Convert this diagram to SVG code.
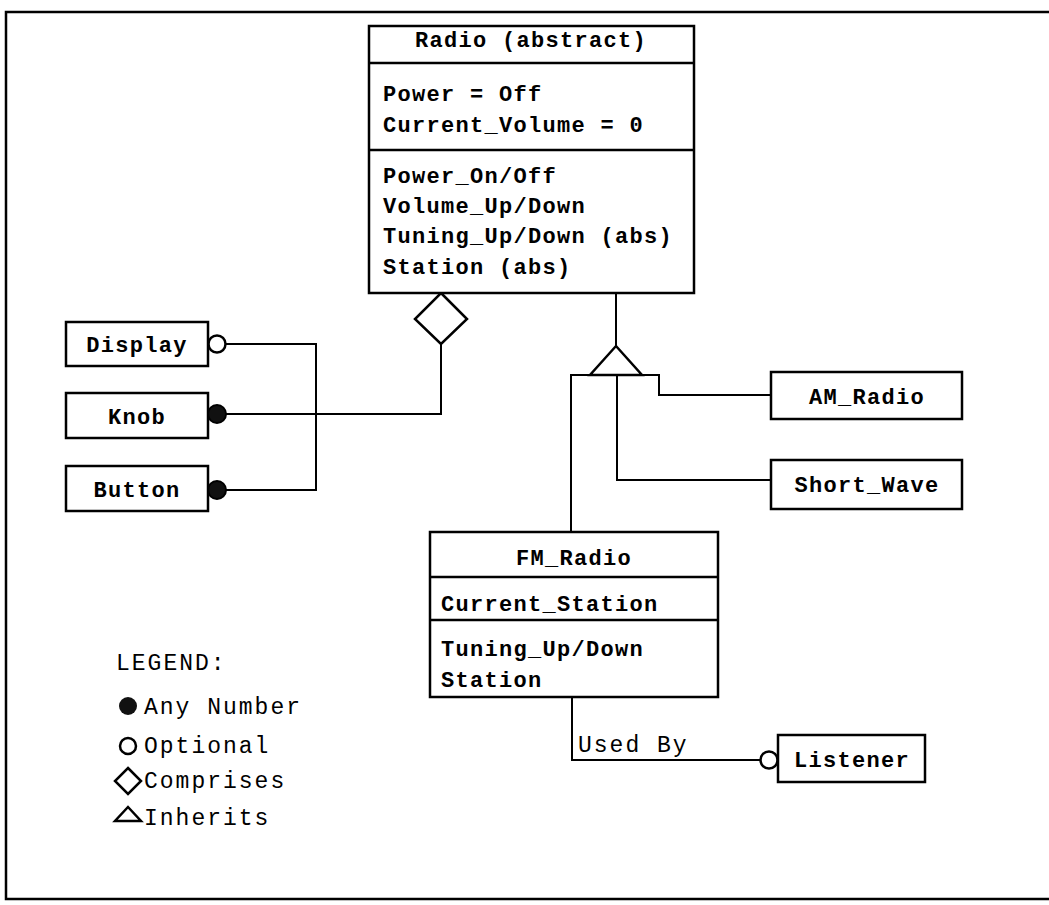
<svg xmlns="http://www.w3.org/2000/svg" width="1049" height="905" viewBox="0 0 1049 905">
<style>
.box{fill:#fff;stroke:#000;stroke-width:2.5}
.div{stroke:#000;stroke-width:2.5}
.ln{fill:none;stroke:#000;stroke-width:2}
.b{font-family:"Liberation Mono","Courier New",monospace;font-weight:bold;font-size:22px;letter-spacing:1.3px;fill:#000}
.r{font-family:"Liberation Mono","Courier New",monospace;font-size:23px;letter-spacing:2px;fill:#000}
.c{text-anchor:middle}
.open{fill:#fff;stroke:#000;stroke-width:2.5}
.fill{fill:#111;stroke:#000;stroke-width:2}
</style>
<rect width="1049" height="905" fill="#fff"/>
<path d="M1049 12 H6 V899 H1049" fill="none" stroke="#000" stroke-width="2.5"/>

<g id="connectors">
  <!-- comprises -->
  <polygon points="441,293 467,319 441,344 415,319" class="open"/>
  <path class="ln" d="M441 344 V414 H226"/>
  <path class="ln" d="M226 344 H316 V490 H226"/>
  <!-- inherits -->
  <path class="ln" d="M616 293 V346"/>
  <polygon points="616,346 642,375 590,375" class="open"/>
  <path class="ln" d="M590 375 H571 V532"/>
  <path class="ln" d="M642 375 H659 V395 H771"/>
  <path class="ln" d="M617 375 V480 H771"/>
  <!-- used by -->
  <path class="ln" d="M572 697 V760 H761"/>
  <text x="578" y="752" class="r">Used By</text>
  <!-- end markers -->
  <circle cx="217" cy="344" r="8.5" class="open"/>
  <circle cx="217" cy="414" r="9" class="fill"/>
  <circle cx="217" cy="490" r="9" class="fill"/>
  <circle cx="769" cy="760" r="8.5" class="open"/>
</g>

<g id="radio">
  <rect x="369" y="26" width="325" height="267" class="box"/>
  <line x1="369" y1="63" x2="694" y2="63" class="div"/>
  <line x1="369" y1="150" x2="694" y2="150" class="div"/>
  <text x="531" y="47" class="b c">Radio (abstract)</text>
  <text x="383" y="101" class="b">Power = Off</text>
  <text x="383" y="132" class="b">Current_Volume = 0</text>
  <text x="383" y="183" class="b">Power_On/Off</text>
  <text x="383" y="213" class="b">Volume_Up/Down</text>
  <text x="383" y="243" class="b">Tuning_Up/Down (abs)</text>
  <text x="383" y="274" class="b">Station (abs)</text>
</g>

<g id="display">
  <rect x="66" y="322" width="142" height="44" class="box"/>
  <text x="137" y="352" class="b c">Display</text>
</g>
<g id="knob">
  <rect x="66" y="393" width="142" height="45" class="box"/>
  <text x="137" y="424" class="b c">Knob</text>
</g>
<g id="button">
  <rect x="66" y="466" width="142" height="45" class="box"/>
  <text x="137" y="497" class="b c">Button</text>
</g>

<g id="am_radio">
  <rect x="771" y="372" width="191" height="47" class="box"/>
  <text x="867" y="404" class="b c">AM_Radio</text>
</g>
<g id="short_wave">
  <rect x="771" y="460" width="191" height="49" class="box"/>
  <text x="867" y="492" class="b c">Short_Wave</text>
</g>

<g id="fm_radio">
  <rect x="430" y="532" width="288" height="165" class="box"/>
  <line x1="430" y1="577" x2="718" y2="577" class="div"/>
  <line x1="430" y1="620" x2="718" y2="620" class="div"/>
  <text x="574" y="565" class="b c">FM_Radio</text>
  <text x="441" y="611" class="b">Current_Station</text>
  <text x="441" y="656" class="b">Tuning_Up/Down</text>
  <text x="441" y="687" class="b">Station</text>
</g>

<g id="listener">
  <rect x="778" y="735" width="147" height="47" class="box"/>
  <text x="852" y="767" class="b c">Listener</text>
</g>

<g id="legend">
  <text x="116" y="670" class="r">LEGEND:</text>
  <circle cx="128" cy="706" r="9" fill="#111"/>
  <text x="144" y="714" class="r">Any Number</text>
  <circle cx="128" cy="746" r="8" class="open"/>
  <text x="144" y="753" class="r">Optional</text>
  <polygon points="128,768 141,781 128,794 115,781" class="open"/>
  <text x="144" y="788" class="r">Comprises</text>
  <polygon points="128,807 141,821 115,821" class="open"/>
  <text x="144" y="825" class="r">Inherits</text>
</g>
</svg>
